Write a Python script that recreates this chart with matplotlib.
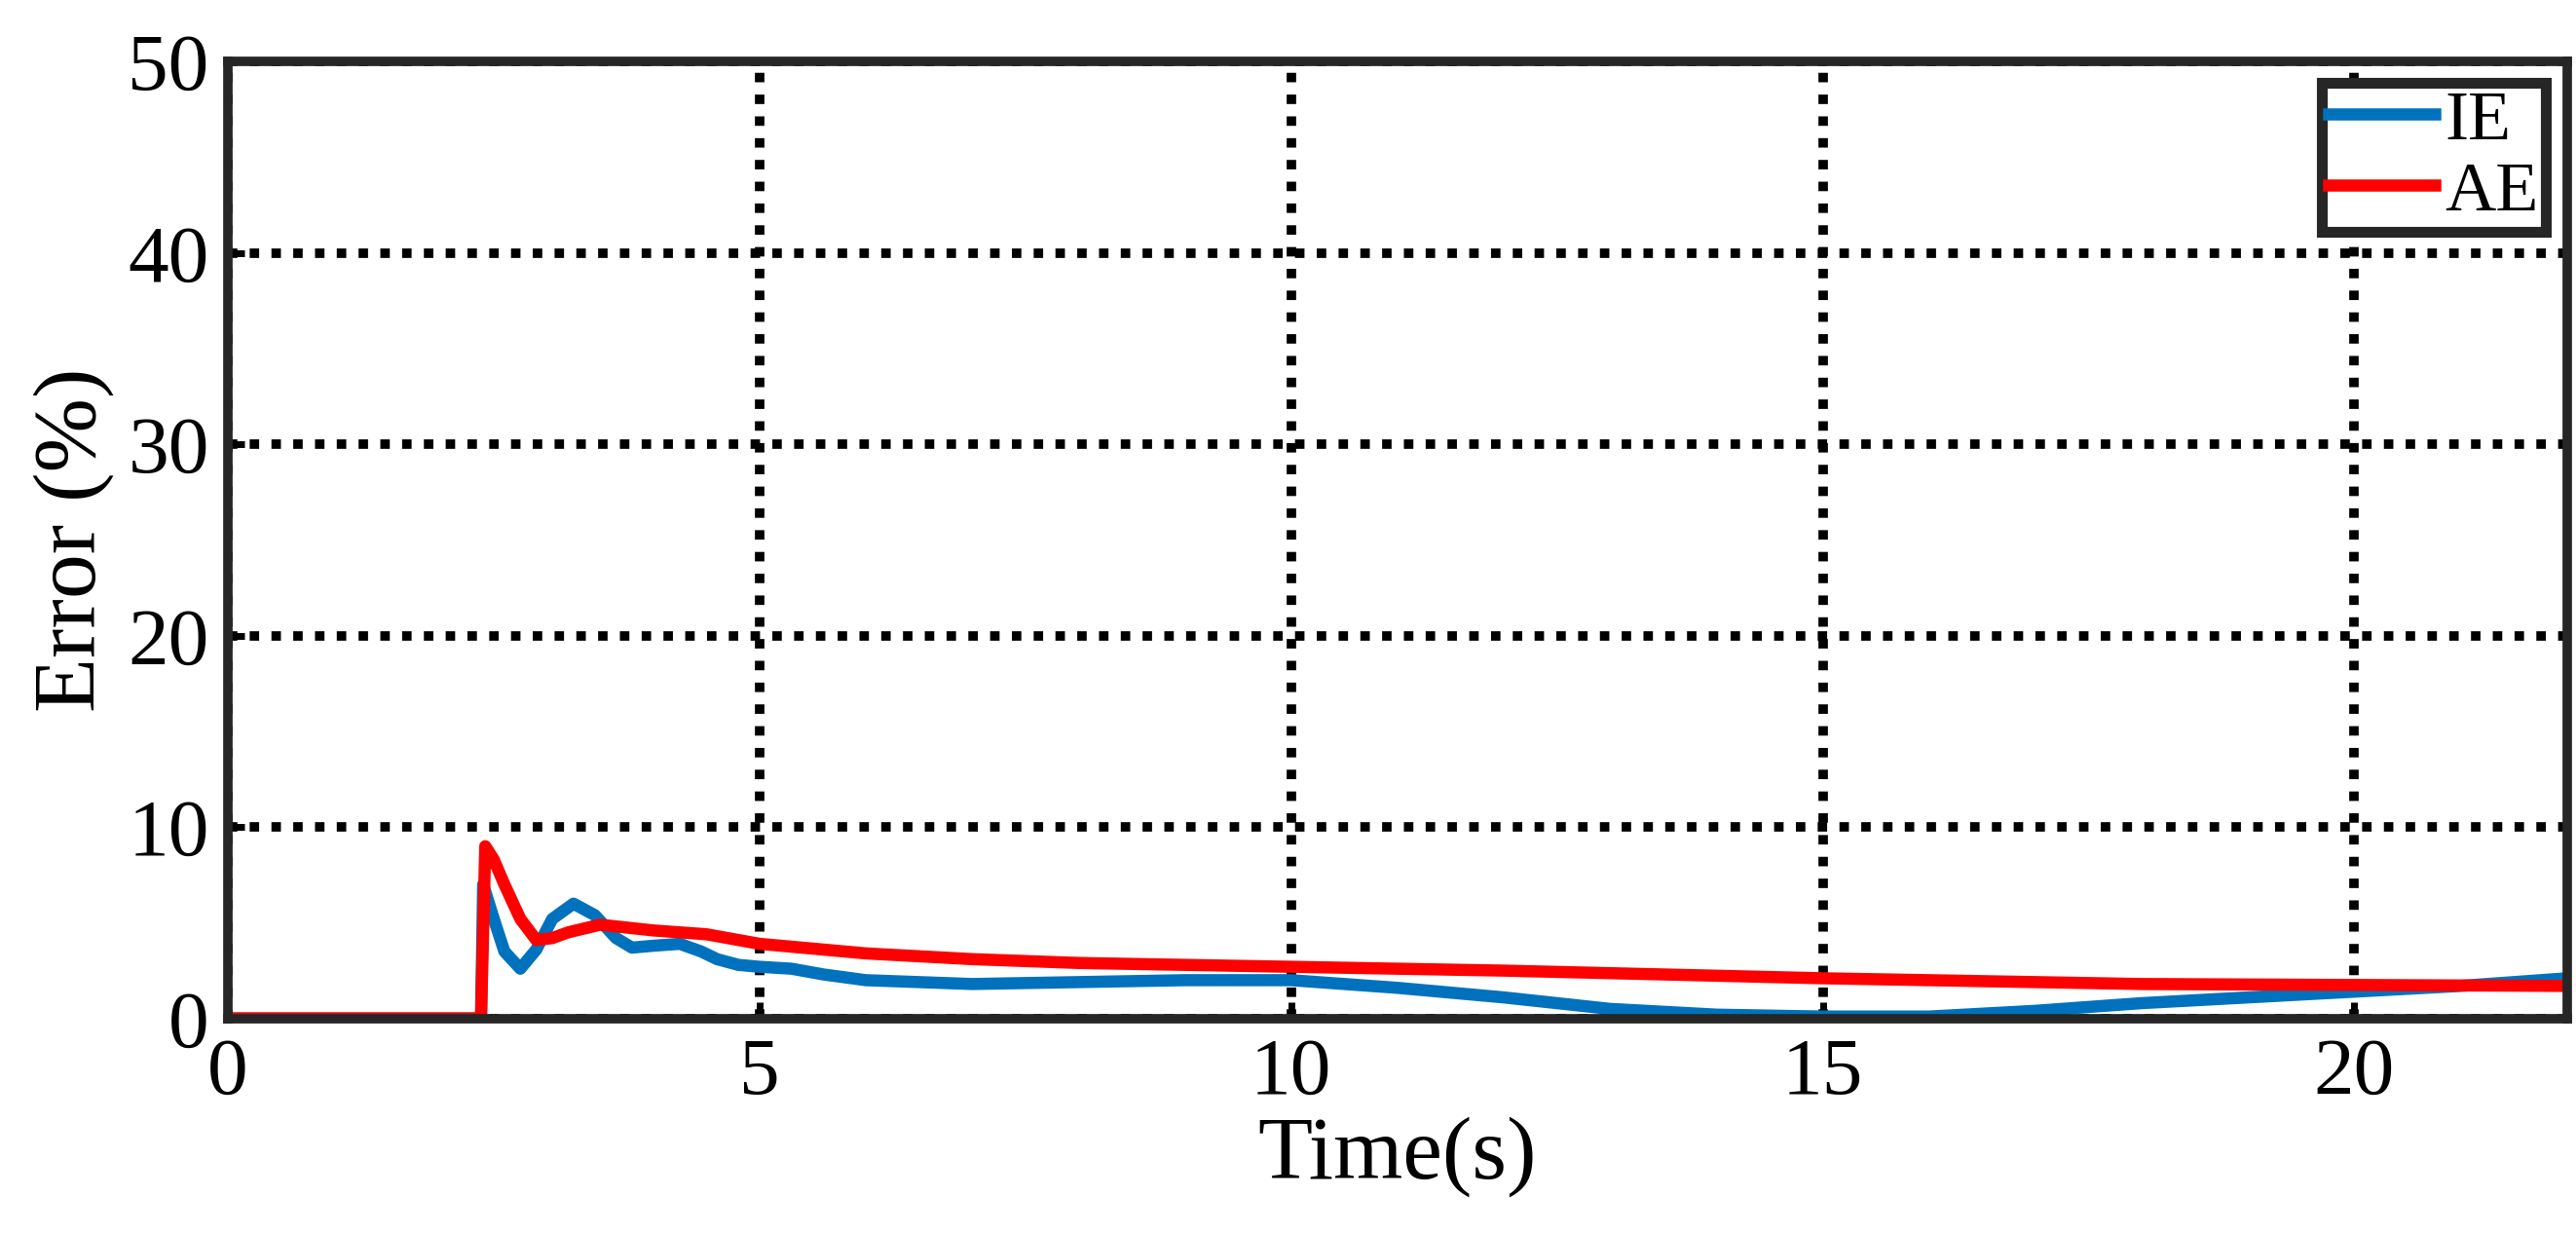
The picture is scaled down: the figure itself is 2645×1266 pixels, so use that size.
import matplotlib
matplotlib.use("Agg")
import matplotlib.pyplot as plt

plt.rcParams["font.family"] = ["Liberation Serif", "DejaVu Serif"]

# values
t_ie = [0, 2.38, 2.40, 2.5, 2.6, 2.75, 2.9, 3.05, 3.25, 3.45, 3.65, 3.8, 4.0, 4.25, 4.45, 4.6, 4.8, 5.0, 5.3, 5.6, 6, 7, 8, 9, 10, 11, 12, 13, 14, 15, 16, 17, 18, 19, 20, 21, 22]
ie = [0, 0, 7.0, 5.2, 3.5, 2.6, 3.6, 5.2, 6.0, 5.4, 4.2, 3.7, 3.8, 3.9, 3.5, 3.1, 2.8, 2.7, 2.6, 2.3, 2.0, 1.8, 1.9, 2.0, 2.0, 1.6, 1.1, 0.5, 0.2, 0.1, 0.1, 0.4, 0.8, 1.1, 1.4, 1.7, 2.1]
t_ae = [0, 2.38, 2.42, 2.5, 2.6, 2.75, 2.9, 3.05, 3.2, 3.5, 4.0, 4.5, 5, 6, 7, 8, 10, 12, 15, 18, 20, 22]
ae = [0, 0, 9.0, 8.3, 7.0, 5.2, 4.1, 4.2, 4.5, 4.9, 4.6, 4.4, 3.9, 3.4, 3.1, 2.9, 2.7, 2.5, 2.1, 1.8, 1.75, 1.7]

fig = plt.figure(figsize=(26.45, 12.66), dpi=100)
ax = fig.add_axes([0.0885, 0.174, 0.908, 0.776])
ax.plot(t_ie, ie, color="#0072BD", lw=9, label="IE")
ax.plot(t_ae, ae, color="#FF0000", lw=9, label="AE")
ax.set_xlim(0, 22)
ax.set_ylim(0, 50)
ax.set_xticks([0, 5, 10, 15, 20])
ax.set_yticks([0, 10, 20, 30, 40, 50])
ax.grid(True, color="black", linestyle=(0, (1, 1.3)), linewidth=7)
ax.tick_params(labelsize=60, width=5, length=12, direction="in", pad=14)
for s in ax.spines.values():
    s.set_linewidth(7)
    s.set_color("#262626")
ax.set_xlabel("Time(s)", fontsize=66, labelpad=4)
ax.set_ylabel("Error (%)", fontsize=66, labelpad=10)
leg = ax.legend(loc="upper right", fontsize=52, fancybox=False, framealpha=1,
                handlelength=1.5, handletextpad=0.15, borderpad=0.1,
                labelspacing=0.1, borderaxespad=0.3)
leg.get_frame().set_edgecolor("#262626")
leg.get_frame().set_linewidth(8)
fig.savefig("out.png")
